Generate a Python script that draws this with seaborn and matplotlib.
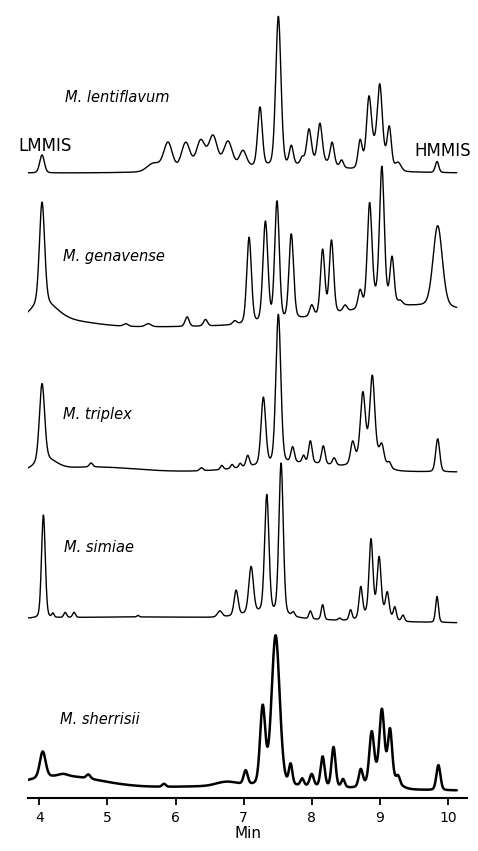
import numpy as np
import pandas as pd
import seaborn as sns
import matplotlib.pyplot as plt

# peak tables (retention time in min, height, FWHM in min)
species = ["M. lentiflavum", "M. genavense", "M. triplex", "M. simiae", "M. sherrisii"]

lentiflavum_rt = [4.04, 5.68, 5.89, 6.15, 6.37, 6.55, 6.77, 6.99, 7.24, 7.51, 7.70, 7.86, 7.96,
                  8.12, 8.30, 8.44, 8.71, 8.84, 9.00, 9.14, 9.27, 9.84, 7.5, 8.95, 8.1]
lentiflavum_h = [18, 8, 28, 27, 28, 32, 26, 16, 59, 150, 19, 6, 33,
                 38, 22, 7, 26, 57, 63, 37, 8, 11, 6, 25, 6]
lentiflavum_w = [0.08, 0.22, 0.15, 0.15, 0.15, 0.15, 0.15, 0.12, 0.08, 0.09, 0.07, 0.06, 0.08,
                 0.08, 0.07, 0.06, 0.07, 0.08, 0.08, 0.07, 0.1, 0.06, 2.35, 0.28, 0.47]

genavense_rt = [4.04, 5.27, 5.60, 6.17, 6.44, 6.87, 7.08, 7.32, 7.49, 7.70, 8.00, 8.16, 8.29,
                8.49, 8.71, 8.85, 9.03, 9.18, 9.30, 9.85, 4.05, 4.3, 9.5, 9.0]
genavense_h = [101, 2.5, 3, 9.5, 6.5, 3.5, 86, 100, 119, 85, 11, 65, 73,
               6, 18, 100, 130, 45, 4, 81, 18, 7, 21, 10]
genavense_w = [0.09, 0.08, 0.1, 0.07, 0.07, 0.07, 0.08, 0.085, 0.08, 0.08, 0.07, 0.075, 0.075,
               0.07, 0.07, 0.08, 0.08, 0.07, 0.08, 0.16, 0.47, 1.06, 2.83, 0.28]

triplex_rt = [4.04, 4.76, 6.38, 6.68, 6.83, 6.95, 7.06, 7.29, 7.51, 7.72, 7.88, 7.98, 8.17,
              8.33, 8.60, 8.75, 8.89, 9.03, 9.14, 9.85, 4.1, 4.8, 7.8, 8.85]
triplex_h = [77, 4, 3, 4, 4, 4, 11, 67, 149, 15, 7, 22, 18,
             7, 20, 58, 72, 15, 5, 33, 10, 5, 9, 22]
triplex_w = [0.09, 0.06, 0.06, 0.05, 0.05, 0.05, 0.06, 0.08, 0.085, 0.06, 0.05, 0.06, 0.06,
             0.06, 0.07, 0.08, 0.08, 0.07, 0.06, 0.07, 0.35, 1.41, 1.6, 0.35]

simiae_rt = [4.06, 4.20, 4.38, 4.51, 5.45, 6.65, 6.89, 7.11, 7.34, 7.55, 7.73, 7.98, 8.16,
             8.41, 8.57, 8.72, 8.87, 8.99, 9.11, 9.22, 9.34, 9.84, 5.5, 7.3, 8.95]
simiae_h = [103, 4, 5, 5, 1.5, 6, 25, 46, 117, 151, 4, 8, 15,
            2, 10, 30, 71, 52, 22, 12, 6, 26, 7, 6, 12]
simiae_w = [0.065, 0.04, 0.05, 0.05, 0.04, 0.08, 0.07, 0.08, 0.075, 0.075, 0.05, 0.05, 0.05,
            0.05, 0.05, 0.06, 0.065, 0.065, 0.06, 0.05, 0.05, 0.05, 5.9, 0.7, 0.35]

sherrisii_rt = [4.05, 4.35, 4.72, 5.83, 7.03, 7.28, 7.47, 7.69, 7.86, 8.00, 8.16, 8.32, 8.46,
                8.72, 8.88, 9.03, 9.15, 9.27, 9.86, 4.3, 7.0, 6.75, 9.05]
sherrisii_h = [26, 2, 4, 3, 14, 77, 150, 20, 7, 12, 30, 40, 8,
               17, 47, 61, 45, 7, 25, 14, 5, 4, 18]
sherrisii_w = [0.1, 0.15, 0.07, 0.06, 0.07, 0.09, 0.14, 0.06, 0.06, 0.07, 0.07, 0.07, 0.06,
               0.07, 0.08, 0.08, 0.07, 0.06, 0.07, 1.41, 3.5, 0.35, 0.35]

tables = [(lentiflavum_rt, lentiflavum_h, lentiflavum_w),
          (genavense_rt, genavense_h, genavense_w),
          (triplex_rt, triplex_h, triplex_w),
          (simiae_rt, simiae_h, simiae_w),
          (sherrisii_rt, sherrisii_h, sherrisii_w)]

# vertical stacking and label placement
trace_offset = [625, 471, 326, 174, 7]
trace_lw = [1.0, 1.0, 1.0, 1.0, 1.8]
label_pos = [(4.38, 700), (4.35, 541), (4.35, 383), (4.36, 251), (4.30, 78)]


def chromatogram(t, rt, h, w):
    rt, h, w = np.array(rt), np.array(h, float), np.array(w)
    d = (t[:, None] - rt) / w
    eta = np.where(w < 0.2, 0.2, 0.0)
    shape = (1 - eta) * np.exp(-4 * np.log(2) * d ** 2) + eta / (1 + 4 * d ** 2)
    return shape @ h


t = np.linspace(3.8, 10.13, 1800)
frames = []
for name, (rt, h, w), off in zip(species, tables, trace_offset):
    frames.append(pd.DataFrame({"Min": t, "signal": off + chromatogram(t, rt, h, w), "species": name}))
df = pd.concat(frames, ignore_index=True)

sns.set_style("white")
plt.rcParams["font.family"] = ["DejaVu Sans"]
plt.rcParams["text.color"] = "black"
plt.rcParams["axes.labelcolor"] = "black"
plt.rcParams["xtick.color"] = "black"

fig = plt.figure(figsize=(4.78, 8.51), dpi=100)
ax = fig.add_axes([28 / 478, 53 / 851, 439 / 478, 798 / 851])

for name, lw in zip(species, trace_lw):
    sns.lineplot(data=df[df.species == name], x="Min", y="signal", color="black",
                 linewidth=lw, estimator=None, ax=ax)

for name, (x, y) in zip(species, label_pos):
    ax.text(x, y, name, style="italic", fontsize=10.5, ha="left", va="center")
ax.text(4.09, 652, "LMMIS", fontsize=12, ha="center", va="center")
ax.text(9.92, 647, "HMMIS", fontsize=12, ha="center", va="center")

ax.set_xlim(3.834, 10.28)
ax.set_ylim(0, 798)
sns.despine(ax=ax, left=True)
ax.spines["bottom"].set_linewidth(1.5)
ax.spines["bottom"].set_color("black")
ax.set_yticks([])
ax.set_xticks(range(4, 11))
ax.tick_params(axis="x", bottom=True, direction="out", length=5, width=1.3,
               color="black", labelsize=10, pad=4)
ax.set_xlabel("Min", fontsize=11, labelpad=1)
ax.set_ylabel("")

fig.savefig("out.png", dpi=100)
